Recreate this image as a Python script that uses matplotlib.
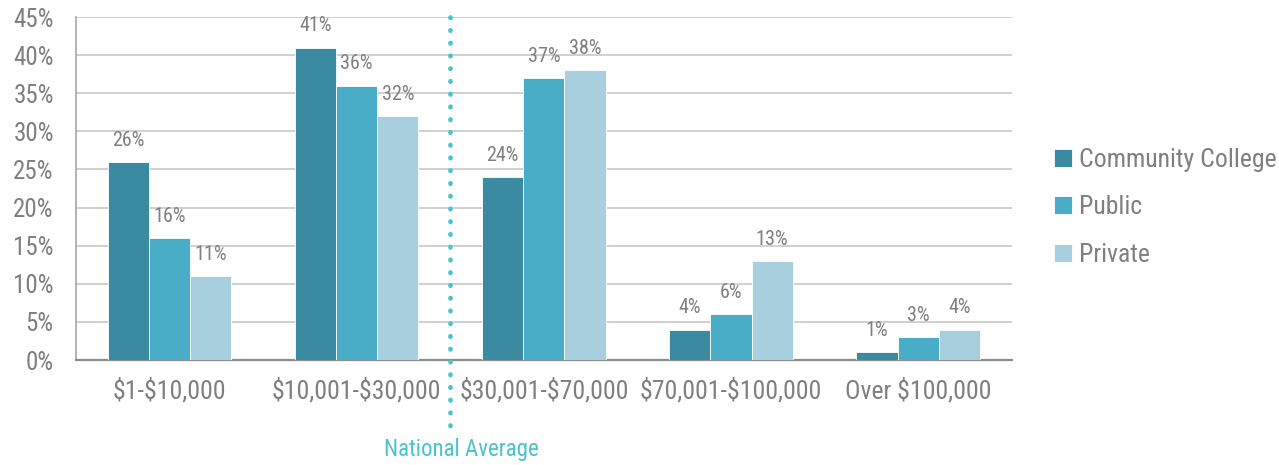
import matplotlib
matplotlib.use("Agg")
import matplotlib.pyplot as plt
import numpy as np
from matplotlib import font_manager

names = {f.name for f in font_manager.fontManager.ttflist}
FONT = next((n for n in ["Liberation Sans Narrow", "Roboto Condensed", "Archivo Narrow", "PT Sans Narrow"]
             if n in names), "Roboto")
plt.rcParams["font.family"] = [FONT, "DejaVu Sans"]

categories = ["$1-$10,000", "$10,001-$30,000", "$30,001-$70,000", "$70,001-$100,000", "Over $100,000"]
community_college = [26, 41, 24, 4, 1]
public = [16, 36, 37, 6, 3]
private = [11, 32, 38, 13, 4]
series_names = ["Community College", "Public", "Private"]
colors = ["#3A8AA2", "#4AADC7", "#A8CFDE"]
yticks = [0, 5, 10, 15, 20, 25, 30, 35, 40, 45]
national_average_pos = 1.5

TEXT = "#7F7F7F"
fig = plt.figure(figsize=(12.79, 4.65), dpi=100)
ax = fig.add_axes([0.0594, 0.2258, 0.7316, 0.7376])

x = np.arange(len(categories))
w = 0.22
for i, (vals, name, c) in enumerate(zip([community_college, public, private], series_names, colors)):
    pos = x + (i - 1) * w
    ax.bar(pos, vals, width=w, color=c, label=name, zorder=3, edgecolor="white", linewidth=0.6)
    for px, v in zip(pos, vals):
        ax.text(px, v + 1.6, f"{v}%", ha="center", va="bottom", fontsize=14.5, color=TEXT)

ax.set_xlim(-0.5, len(categories) - 0.5)
ax.set_ylim(0, 45)
ax.set_yticks(yticks)
ax.set_yticklabels([f"{t}%" for t in yticks], fontsize=18, color=TEXT)
ax.set_xticks(x)
ax.set_xticklabels(categories, fontsize=18.5, color=TEXT, parse_math=False)
ax.tick_params(axis="both", length=0)
ax.tick_params(axis="x", pad=13)
ax.tick_params(axis="y", pad=16)
ax.grid(axis="y", color="#C8C8C8", linewidth=1.2, zorder=0)
for s in ["top", "right"]:
    ax.spines[s].set_visible(False)
ax.spines["left"].set_color("#A6A6A6")
ax.spines["left"].set_linewidth(1.2)
ax.spines["bottom"].set_color("#8C8C8C")
ax.spines["bottom"].set_linewidth(1.6)

ax.plot([national_average_pos, national_average_pos], [45, -9.4], color="#4BC3CF",
        linestyle=(0, (0.1, 2.6)), dash_capstyle="round", linewidth=3.4, clip_on=False, zorder=4)
ax.text(national_average_pos + 0.06, -11.7, "National Average", ha="center", va="center",
        fontsize=16.5, color="#4BC3CF")

leg = ax.legend(loc="center left", bbox_to_anchor=(1.02, 0.445), frameon=False, fontsize=18.5,
                handlelength=0.7, handleheight=0.7, handletextpad=0.3, labelspacing=0.9)
for t in leg.get_texts():
    t.set_color(TEXT)

fig.savefig("out.png", dpi=100)
